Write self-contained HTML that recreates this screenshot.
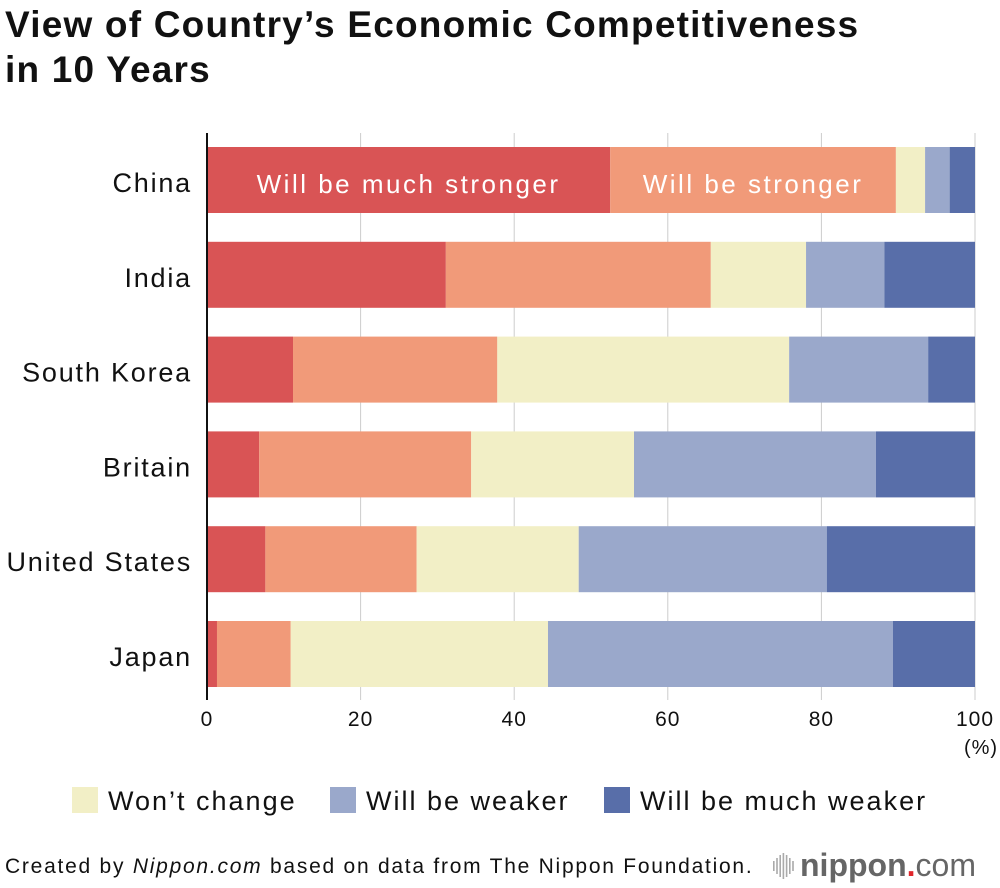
<!DOCTYPE html>
<html><head><meta charset="utf-8"><style>
body{margin:0;background:#fff;font-family:"Liberation Sans",sans-serif;}
#wrap{position:relative;width:1000px;height:888px;overflow:hidden;}
h1{position:absolute;left:5px;top:2px;margin:0;font-size:37px;line-height:45px;font-weight:bold;color:#111;letter-spacing:1.2px;}
</style></head><body>
<div id="wrap">
<h1>View of Country’s Economic Competitiveness<br>in 10 Years</h1>
<svg id="c" width="1000" height="888" style="position:absolute;left:0;top:0"></svg>
</div>
<script>
const categories=["China","India","South Korea","Britain","United States","Japan"];
const seriesNames=["Will be much stronger","Will be stronger","Won’t change","Will be weaker","Will be much weaker"];
const muchStronger=[52.5,31.1,11.2,6.8,7.6,1.3];
const stronger=[37.2,34.5,26.6,27.6,19.7,9.6];
const wontChange=[3.8,12.4,38.0,21.2,21.1,33.5];
const weaker=[3.2,10.2,18.1,31.5,32.3,44.9];
const muchWeaker=[3.3,11.8,6.1,12.9,19.3,10.7];
const ticks=[0,20,40,60,80,100];
const colors=["#d95455","#f19a79","#f2efc6","#9aa8cb","#586ea9"];
const series=[muchStronger,stronger,wontChange,weaker,muchWeaker];
const NS="http://www.w3.org/2000/svg";
const svg=document.getElementById('c');
const x0=207,x1=975;
const xs=v=>x0+(x1-x0)*v/100;
const yTop=i=>147+i*94.8;
function mk(t,a,txt){const e=document.createElementNS(NS,t);for(const k in a)e.setAttribute(k,a[k]);if(txt!==undefined)e.textContent=txt;svg.appendChild(e);return e;}
ticks.forEach(t=>{
 if(t>0){const g=mk('line',{x1:xs(t),x2:xs(t),y1:133,y2:700,stroke:'#ccc','stroke-width':1});
 
 }
 const l=mk('text',{x:xs(t),y:726,'text-anchor':'middle','font-size':21,'letter-spacing':1,fill:'#111'},t);
 
 
});
const pct=mk('text',{x:981,y:754,'text-anchor':'middle','font-size':20,'letter-spacing':1,fill:'#111'},'(%)');


categories.forEach((c,i)=>{
 let acc=0;
 series.forEach((s,j)=>{
  const r=mk('rect',{x:xs(acc),y:yTop(i),width:xs(acc+s[i])-xs(acc),height:66,fill:colors[j]});
  
  
  acc+=s[i];
 });
 const l=mk('text',{x:192,y:yTop(i)+45,'text-anchor':'end','font-size':27,'letter-spacing':1.8,fill:'#111'},c);
 
 
});
const a=mk('line',{x1:207,x2:207,y1:133,y2:700,stroke:'#111','stroke-width':2});


const t1=mk('text',{x:xs(muchStronger[0]/2),y:yTop(0)+46,'text-anchor':'middle','font-size':26,'letter-spacing':2.5,fill:'#fff'},seriesNames[0]);


const t2=mk('text',{x:xs(muchStronger[0]+stronger[0]/2),y:yTop(0)+46,'text-anchor':'middle','font-size':26,'letter-spacing':2.5,fill:'#fff'},seriesNames[1]);


const legX=[72,330,604];
[2,3,4].forEach((j,k)=>{
 const r=mk('rect',{x:legX[k],y:787,width:26,height:26,fill:colors[j]});
 
 
 const t=mk('text',{x:legX[k]+36,y:810,'font-size':27,'letter-spacing':2,fill:'#111'},seriesNames[j]);
 
 
});
const f=mk('text',{x:5,y:873,'font-size':21,'letter-spacing':1.75,fill:'#111'});


f.innerHTML='Created by <tspan font-style="italic">Nippon.com</tspan> based on data from The Nippon Foundation.';
for(let k=0;k<7;k++){const h=[10,16,22,26,22,16,10][k];const b=mk('rect',{x:773+k*3.2,y:866-h/2,width:1.6,height:h,fill:'#aaa'});
 
 }
const logo=mk('text',{x:800,y:876,'font-size':32,fill:'#666'});


logo.innerHTML='<tspan font-weight="bold">nippon</tspan><tspan fill="#e0262b" font-weight="bold">.</tspan><tspan>com</tspan>';
</script>
</body></html>
